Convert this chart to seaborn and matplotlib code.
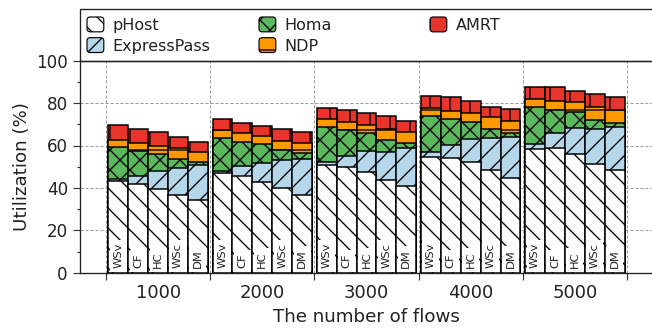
import numpy as np
import pandas as pd
import matplotlib
matplotlib.use("Agg")
import matplotlib.pyplot as plt
import seaborn as sns
from matplotlib.patches import FancyBboxPatch, Rectangle, Patch
from matplotlib.legend_handler import HandlerPatch
from matplotlib.ticker import FixedLocator, MultipleLocator, NullFormatter, FixedFormatter

# ---- data: utilization (%) for each scheme, rows = number of flows, cols = workload
flow_counts = ["1000", "2000", "3000", "4000", "5000"]
workloads = ["WSv", "CF", "HC", "WSc", "DM"]
schemes = ["pHost", "ExpressPass", "Homa", "NDP", "AMRT"]

phost = [[43.3, 41.7, 39.7, 36.8, 34.1],
         [46.8, 45.7, 42.8, 40.0, 36.8],
         [50.7, 49.9, 47.5, 43.6, 40.9],
         [54.6, 53.9, 52.0, 48.3, 44.9],
         [58.3, 58.6, 56.2, 51.5, 48.3]]
expresspass = [[44.4, 45.5, 47.9, 49.5, 51.0],
               [47.9, 50.4, 51.8, 53.1, 53.6],
               [52.3, 55.1, 57.3, 57.0, 58.6],
               [57.0, 60.2, 62.9, 63.4, 64.1],
               [60.7, 65.7, 68.1, 67.6, 68.6]]
homa = [[59.1, 57.3, 55.8, 53.6, 52.1],
        [63.7, 61.8, 60.5, 57.8, 56.5],
        [68.9, 67.3, 65.7, 62.6, 61.3],
        [73.9, 72.4, 70.9, 67.8, 66.0],
        [78.3, 76.8, 75.7, 72.0, 70.5]]
ndp = [[62.6, 61.0, 59.7, 58.6, 57.0],
       [67.3, 65.7, 64.6, 62.2, 61.0],
       [72.5, 70.9, 69.7, 67.6, 66.2],
       [77.6, 76.3, 75.2, 73.3, 71.6],
       [82.0, 81.2, 80.7, 78.3, 76.8]]
amrt = [[69.7, 67.8, 66.2, 64.1, 61.5],
        [72.4, 70.8, 69.2, 67.6, 66.2],
        [77.9, 76.8, 75.2, 74.1, 71.6],
        [83.4, 82.8, 81.2, 78.3, 77.1],
        [87.8, 87.5, 85.9, 84.2, 82.8]]

series = {"pHost": phost, "ExpressPass": expresspass, "Homa": homa,
          "NDP": ndp, "AMRT": amrt}

# ---- styling
colors = {"pHost": "#ffffff", "ExpressPass": "#b6d6ea", "Homa": "#5cb85c",
          "NDP": "#ff9900", "AMRT": "#e8352b"}
hatches = {"pHost": "\\\\", "ExpressPass": "//", "Homa": "xx", "NDP": "-", "AMRT": "|"}

DPI = 120
W_PX, H_PX = 652, 328
def pt(px):
    return px * 72.0 / DPI

sns.set_theme(style="white")
plt.rcParams["font.family"] = ["DejaVu Sans"]
plt.rcParams["hatch.linewidth"] = 0.8
plt.rcParams["hatch.color"] = "black"

TEXT = "#222222"

fig = plt.figure(figsize=(W_PX / DPI, H_PX / DPI), dpi=DPI)
ax_left, ax_right, ax_top, ax_bot = 80, 653, 60.7, 272.7
ax = fig.add_axes([ax_left / W_PX, 1 - ax_bot / H_PX,
                   (ax_right - ax_left) / W_PX, (ax_bot - ax_top) / H_PX])

BAR_W = 0.191
n_w = len(workloads)

# long-form table: one row per (scheme, flow count, workload)
rows = []
for s in schemes:
    for g, fc in enumerate(flow_counts):
        for k, wl in enumerate(workloads):
            rows.append({"scheme": s, "flows": fc, "workload": wl,
                         "pos": g + (k - (n_w - 1) / 2) * BAR_W,
                         "util": series[s][g][k]})
df = pd.DataFrame(rows)

# tallest series first so the smaller ones overlay it
for z, s in enumerate(reversed(schemes)):
    sub = df[df["scheme"] == s]
    sns.barplot(data=sub, x="pos", y="util", native_scale=True, width=1.0,
                color=colors[s], saturation=1, errorbar=None,
                edgecolor="black", linewidth=0.9, hatch=hatches[s],
                zorder=2 + z * 0.1, ax=ax)

# workload names at the foot of each bar
for _, r in df[df["scheme"] == "pHost"].iterrows():
    ax.text(r["pos"], 2.0, r["workload"], rotation=90, ha="center", va="bottom",
            fontsize=pt(11.5), color=TEXT, zorder=5, clip_on=True,
            bbox=dict(facecolor="white", edgecolor="none", pad=pt(3.6)))

ax.set_xlim(-0.75, 4.75)
ax.set_ylim(0, 100)

# x axis: separators as major ticks, flow counts as minor tick labels
ax.xaxis.set_major_locator(FixedLocator(np.arange(-0.5, len(flow_counts), 1.0)))
ax.xaxis.set_major_formatter(NullFormatter())
ax.xaxis.set_minor_locator(FixedLocator(np.arange(len(flow_counts))))
ax.xaxis.set_minor_formatter(FixedFormatter(flow_counts))
ax.tick_params(axis="x", which="major", direction="out", length=pt(7),
               width=0.7, color="#333333", bottom=True)
ax.tick_params(axis="x", which="minor", length=0, pad=pt(11),
               labelsize=pt(18), labelcolor=TEXT, bottom=True)

ax.yaxis.set_major_locator(MultipleLocator(20))
ax.yaxis.set_minor_locator(MultipleLocator(10))
ax.tick_params(axis="y", which="major", direction="out", length=pt(7),
               width=0.7, color="#333333", pad=pt(5), labelsize=pt(16.8),
               labelcolor=TEXT, left=True)
ax.tick_params(axis="y", which="minor", direction="out", length=pt(3.5),
               width=0.7, color="#333333", left=True)

ax.grid(True, which="major", axis="both", color="#999999",
        linestyle=(0, (3, 2)), linewidth=0.6)
ax.set_axisbelow(True)

for side in ["left", "bottom", "top"]:
    ax.spines[side].set_visible(True)
    ax.spines[side].set_color("#222222")
    ax.spines[side].set_linewidth(0.8)
ax.spines["right"].set_visible(False)

ax.set_xlabel("The number of flows", fontsize=pt(18.3), color=TEXT)
ax.set_ylabel("Utilization (%)", fontsize=pt(18.3), color=TEXT)
ax.xaxis.set_label_coords(0.5, -0.165)
ax.yaxis.set_label_coords((31 - ax_left) / (ax_right - ax_left), 0.5)

# ---- legend: framed box above the axes, three columns
frame = Rectangle((ax_left / W_PX, 1 - 61 / H_PX), (ax_right - ax_left) / W_PX,
                  52 / H_PX, transform=fig.transFigure, fill=False,
                  edgecolor="#222222", linewidth=0.8, zorder=10)
fig.add_artist(frame)

def rounded_box(legend, orig_handle, xdescent, ydescent, width, height, fontsize):
    return FancyBboxPatch((-xdescent, -ydescent), width, height,
                          boxstyle=f"round,pad=0,rounding_size={height * 0.22}")

handles = {s: Patch(facecolor=colors[s], edgecolor="black", hatch=hatches[s],
                    linewidth=0.7, label=s) for s in schemes}
columns = [(["pHost", "ExpressPass"], 87), (["Homa", "NDP"], 259), (["AMRT"], 430)]
for names, x_px in columns:
    fig.legend(handles=[handles[n] for n in names], labels=names,
               loc="upper left", bbox_to_anchor=(x_px / W_PX, 1 - 17 / H_PX),
               bbox_transform=fig.transFigure, frameon=False, borderpad=0,
               borderaxespad=0, handlelength=1.05, handleheight=1.05,
               handletextpad=0.55, labelspacing=0.3, fontsize=pt(16),
               labelcolor=TEXT,
               handler_map={Patch: HandlerPatch(patch_func=rounded_box)})

fig.savefig("out.png", dpi=DPI)
